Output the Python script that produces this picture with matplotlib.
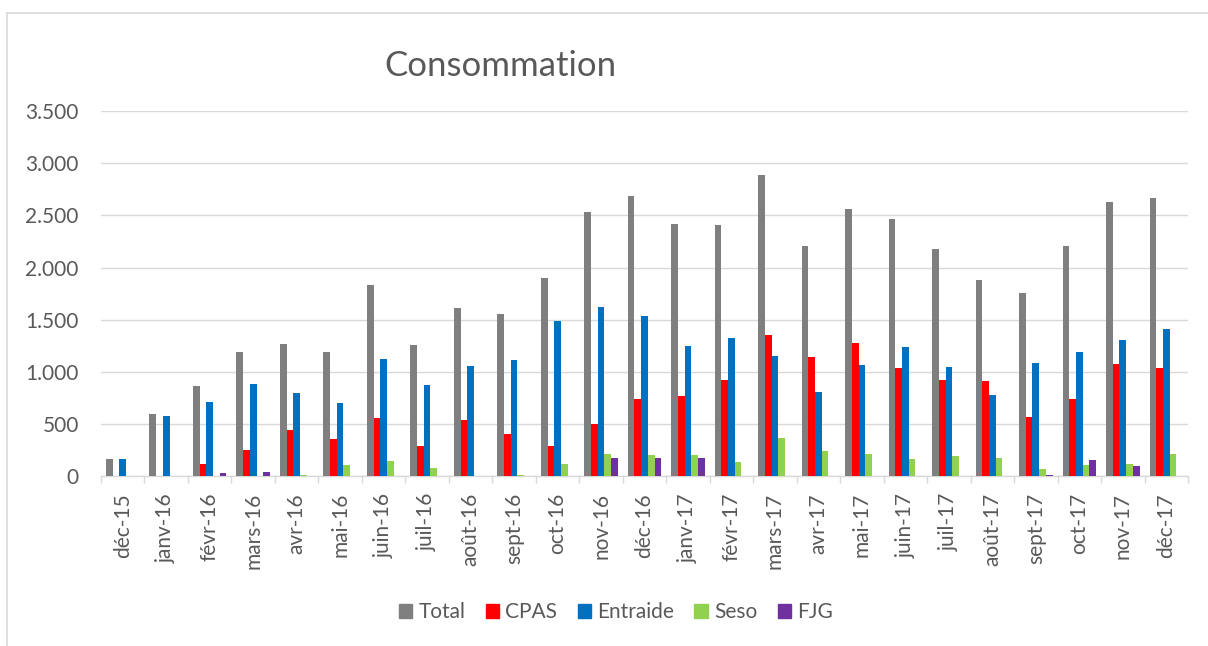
import matplotlib
matplotlib.use("Agg")
import matplotlib.pyplot as plt
import numpy as np
from matplotlib.patches import Rectangle
from matplotlib.lines import Line2D
from matplotlib.ticker import FuncFormatter, FixedLocator

months = ["déc-15", "janv-16", "févr-16", "mars-16", "avr-16", "mai-16", "juin-16",
          "juil-16", "août-16", "sept-16", "oct-16", "nov-16", "déc-16", "janv-17",
          "févr-17", "mars-17", "avr-17", "mai-17", "juin-17", "juil-17", "août-17",
          "sept-17", "oct-17", "nov-17", "déc-17"]

total = [165, 594, 869, 1188, 1268, 1188, 1831, 1259, 1610, 1553, 1904, 2530, 2684,
         2415, 2403, 2888, 2205, 2559, 2470, 2179, 1879, 1754, 2208, 2630, 2668]
cpas = [0, 5, 118, 252, 444, 358, 559, 291, 540, 406, 291, 502, 741,
        773, 920, 1351, 1141, 1275, 1038, 927, 914, 566, 738, 1080, 1035]
entraide = [165, 578, 709, 885, 796, 700, 1121, 875, 1061, 1112, 1486, 1620, 1537,
            1246, 1329, 1157, 808, 1064, 1240, 1045, 783, 1086, 1192, 1304, 1409]
seso = [0, 0, 0, 0, 16, 112, 144, 83, 0, 13, 118, 211, 204,
        201, 141, 367, 243, 211, 166, 195, 173, 73, 109, 121, 214]
fjg = [0, 0, 32, 42, 0, 0, 0, 0, 0, 0, 0, 176, 176,
       176, 0, 0, 0, 0, 0, 0, 0, 10, 153, 99, 0]

series_names = ["Total", "CPAS", "Entraide", "Seso", "FJG"]
series_values = [total, cpas, entraide, seso, fjg]
series_colors = ["#7f7f7f", "#ff0000", "#0070c0", "#92d050", "#7030a0"]

plt.rcParams["font.family"] = ["Lato", "DejaVu Sans"]
text_color = "#595959"
grid_color = "#d9d9d9"

W, H = 1208, 646
fig = plt.figure(figsize=(W / 100, H / 100), dpi=100)
ax = fig.add_axes([101 / W, (H - 476.3) / H, 1087 / W, 365.3 / H])

n = len(months)
x = np.arange(n)
bar_w = 1 / 6.5
for i, (name, vals, col) in enumerate(zip(series_names, series_values, series_colors)):
    ax.bar(x + (i - 2) * bar_w, vals, width=bar_w, color=col, label=name,
           zorder=3, linewidth=0)

ax.set_xlim(-0.5, n - 0.5)
ax.set_ylim(0, 3500)
ax.set_yticks(np.arange(0, 3501, 500))
ax.yaxis.set_major_formatter(FuncFormatter(lambda v, p: f"{int(v):,}".replace(",", ".")))
ax.grid(axis="y", color=grid_color, linewidth=1.0, zorder=0)

ax.set_xticks(x)
ax.set_xticklabels(months, rotation=90, ha="center", va="top")
ax.xaxis.set_minor_locator(FixedLocator(np.arange(-0.5, n, 1)))
ax.tick_params(axis="x", which="major", length=0, pad=12, labelsize=15, labelcolor=text_color)
ax.tick_params(axis="x", which="minor", length=5, width=1, color=grid_color)
ax.tick_params(axis="y", length=0, pad=16, labelsize=15, labelcolor=text_color)

for side in ["top", "right", "left"]:
    ax.spines[side].set_visible(False)
ax.spines["bottom"].set_color(grid_color)
ax.spines["bottom"].set_linewidth(1.0)

fig.text(500 / W, 1 - 66 / H, "Consommation", ha="center", va="center",
         fontsize=25, color=text_color)

handles = [Rectangle((0, 0), 1, 1, color=c) for c in series_colors]
fig.legend(handles, series_names, loc="center", bbox_to_anchor=(616 / W, 1 - 612 / H),
           ncol=5, frameon=False, fontsize=15, labelcolor=text_color,
           handlelength=0.65, handleheight=0.65, handletextpad=0.3, columnspacing=0.97)

# light chart-area frame
top_y = 1 - 12.7 / H
left_x = 7 / W
fig.add_artist(Line2D([left_x, 1], [top_y, top_y], color=grid_color, linewidth=1.2))
fig.add_artist(Line2D([left_x, left_x], [0, top_y], color=grid_color, linewidth=1.2))

fig.savefig("out.png", dpi=100, facecolor="white")
